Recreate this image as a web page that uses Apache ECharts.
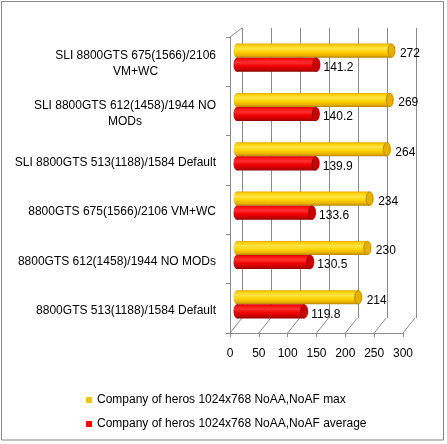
<!DOCTYPE html>
<html><head><meta charset="utf-8">
<script src="https://cdn.jsdelivr.net/npm/echarts/dist/echarts.min.js"></script>
<style>html,body{margin:0;padding:0;background:#fff}#c{width:447px;height:444px}</style>
</head><body><div id="c"></div>
<script>
var categories = [
  'SLI 8800GTS 675(1566)/2106\nVM+WC',
  'SLI 8800GTS 612(1458)/1944 NO\nMODs',
  'SLI 8800GTS 513(1188)/1584 Default',
  '8800GTS 675(1566)/2106 VM+WC',
  '8800GTS 612(1458)/1944 NO MODs',
  '8800GTS 513(1188)/1584 Default'
];
var maxValues = [272, 269, 264, 234, 230, 214];
var avgValues = [141.2, 140.2, 139.9, 133.6, 130.5, 119.8];
var seriesNames = ['Company of heros 1024x768 NoAA,NoAF max', 'Company of heros 1024x768 NoAA,NoAF average'];
var xTicks = [0, 50, 100, 150, 200, 250, 300];

var FONT = '"Liberation Sans", Arial, sans-serif';
var LINE = '#8a8a8a';
var chart = echarts.init(document.getElementById('c'));

function grad(stops) {
  return new echarts.graphic.LinearGradient(0, 0, 0, 1, stops.map(function (s) { return { offset: s[0], color: s[1] }; }));
}
var styles = [
  { body: [[0, '#D9A400'], [0.12, '#FFD000'], [0.35, '#FFE44A'], [0.6, '#FFD200'], [0.85, '#E8B000'], [1, '#B08200']], cap: '#E6B000', capStroke: '#A87800' },
  { body: [[0, '#D00000'], [0.12, '#FF1010'], [0.35, '#FF3030'], [0.6, '#F00000'], [0.85, '#C60000'], [1, '#8C0000']], cap: '#C80000', capStroke: '#7A0000' }
];

function cylinder(slot) {
  return function (params, api) {
    var v = api.value(0), c = api.value(1);
    var p0 = api.coord([0, c]), p1 = api.coord([v, c]);
    var band = api.size([0, 1])[1];
    var h = band * 0.285;
    var yc = p0[1] + (slot === 0 ? -h / 2 : h / 2);
    var rx = 3.5;
    var xL = p0[0] - 2, xR = p1[0] - rx;
    var st = styles[slot];
    return {
      type: 'group',
      children: [
        { type: 'ellipse', shape: { cx: xL, cy: yc, rx: rx, ry: h / 2 }, style: { fill: grad(st.body) } },
        { type: 'rect', shape: { x: xL, y: yc - h / 2, width: xR - xL, height: h }, style: { fill: grad(st.body) } },
        { type: 'ellipse', shape: { cx: xR, cy: yc, rx: rx, ry: h / 2 - 0.3 }, style: { fill: st.cap, stroke: st.capStroke, lineWidth: 0.8 } },
        { type: 'text', style: { text: String(v), x: p1[0] + (slot === 0 ? 5 : 3.5), y: yc + 3, align: 'left', verticalAlign: 'middle', fill: '#000', fontSize: 12, fontFamily: FONT } }
      ]
    };
  };
}

function frame(params, api) {
  var v = api.value(0);
  var cs = params.coordSys;
  var x = api.coord([v, 0])[0];
  var yb = cs.y + cs.height;
  var kids = [{ type: 'line', shape: { x1: x, y1: yb, x2: x + 12, y2: yb - 15 }, style: { stroke: LINE, lineWidth: 1 } }];
  if (v === 0) kids.push({ type: 'line', shape: { x1: x, y1: cs.y, x2: x + 12, y2: cs.y - 9 }, style: { stroke: LINE, lineWidth: 1 } });
  return { type: 'group', children: kids };
}

chart.setOption({
  animation: false,
  textStyle: { fontFamily: FONT },
  graphic: [{ type: 'rect', shape: { x: 1.5, y: 1.5, width: 442, height: 438.5 }, style: { fill: 'none', stroke: '#868686', lineWidth: 1 } }],
  grid: [
    { left: 230, right: 44, top: 37, bottom: 111 },
    { left: 242, right: 31, top: 28, bottom: 126 },
    { left: 239, right: 36, top: 33, bottom: 115 }
  ],
  xAxis: [
    { gridIndex: 0, type: 'value', min: 0, max: 300, interval: 50,
      axisLine: { show: true, lineStyle: { color: LINE } },
      axisTick: { show: true, length: 4, lineStyle: { color: LINE } },
      axisLabel: { margin: 15, fontSize: 12, color: '#000', fontFamily: FONT, formatter: function (v) { return xTicks.indexOf(v) >= 0 ? String(v) : ''; } },
      splitLine: { show: false } },
    { gridIndex: 1, type: 'value', min: 0, max: 300, interval: 50,
      axisLine: { show: false }, axisTick: { show: false }, axisLabel: { show: false },
      splitLine: { show: true, lineStyle: { color: LINE } } },
    { gridIndex: 2, type: 'value', min: 0, max: 300, show: false }
  ],
  yAxis: [
    { gridIndex: 0, type: 'category', data: categories, inverse: true,
      axisLine: { show: true, lineStyle: { color: LINE } },
      axisTick: { show: true, length: 4, lineStyle: { color: LINE } },
      axisLabel: { interval: 0, margin: 14, fontSize: 12, color: '#000', fontFamily: FONT, lineHeight: 16, padding: [5, 0, 0, 0],
        formatter: function (v) { return v.split('\n').map(function (l) { return '{c|' + l + '}'; }).join('\n'); },
        rich: { c: { align: 'center', fontSize: 12, lineHeight: 16, color: '#000', fontFamily: FONT } } } },
    { gridIndex: 1, type: 'category', data: categories, inverse: true, show: false },
    { gridIndex: 2, type: 'category', data: categories, inverse: true, show: false }
  ],
  legend: {
    data: seriesNames, orient: 'vertical', left: 81, top: 389,
    itemWidth: 6, itemHeight: 6, itemGap: 12, icon: 'rect',
    textStyle: { fontSize: 12, color: '#000', fontFamily: FONT }
  },
  series: [
    { type: 'custom', name: 'frame', xAxisIndex: 0, yAxisIndex: 0, silent: true, z: 1,
      data: xTicks.map(function (t) { return [t, 0]; }), renderItem: frame },
    { type: 'custom', name: seriesNames[0], xAxisIndex: 2, yAxisIndex: 2, z: 3,
      itemStyle: { color: '#FFC000' },
      data: maxValues.map(function (v, i) { return [v, i]; }), renderItem: cylinder(0) },
    { type: 'custom', name: seriesNames[1], xAxisIndex: 2, yAxisIndex: 2, z: 3,
      itemStyle: { color: '#FF0000' },
      data: avgValues.map(function (v, i) { return [v, i]; }), renderItem: cylinder(1) }
  ]
});
</script>
</body></html>
